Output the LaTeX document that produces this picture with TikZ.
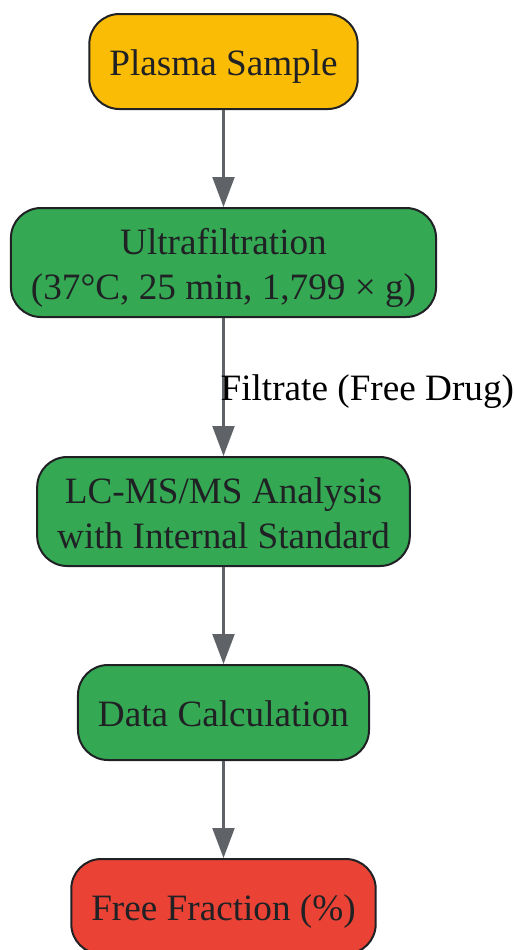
\documentclass[tikz,border=0pt]{standalone}
\usepackage{fontspec}
\setmainfont{Liberation Serif}
\usepackage{xcolor}
\usetikzlibrary{positioning,arrows.meta}
\definecolor{sampleyellow}{HTML}{FBBC05}
\definecolor{procgreen}{HTML}{34A853}
\definecolor{resultred}{HTML}{EA4335}
\definecolor{flowgray}{HTML}{5F6368}
\definecolor{inkdark}{HTML}{202124}
\tikzset{
  stepbox/.style={draw=inkdark, line width=1pt, rounded corners=15pt, text=inkdark,
    align=center, font=\fontsize{18.6}{22.5}\selectfont, inner xsep=10pt, inner ysep=3pt,
    text height=17.5pt, text depth=3.5pt, minimum height=47.5pt},
  tallbox/.style={stepbox, text height=40pt, minimum height=54.5pt},
  flow/.style={flowgray, line width=1.1pt, -{Triangle[length=15pt,width=11pt]}},
}
\begin{document}
\begin{tikzpicture}
            \useasboundingbox (0,0) rectangle (257pt,-475pt);
            \node[stepbox, fill=sampleyellow] (plasma) at (111.75pt,-30.75pt) {Plasma Sample};
            \node[tallbox, fill=procgreen, below=48.5pt of plasma] (ultra) {Ultrafiltration\\(37°C, 25 min, 1,799 × g)};
            \node[tallbox, fill=procgreen, below=69pt of ultra] (lcms) {LC-MS/MS Analysis\\with Internal Standard};
            \node[stepbox, fill=procgreen, below=48.5pt of lcms] (calc) {Data Calculation};
            \node[stepbox, fill=resultred, below=48.5pt of calc] (fraction) {Free Fraction (\%)};
            \draw[flow] (plasma) -- (ultra);
            \draw[flow] (ultra) -- (lcms) node[midway, right, inner sep=0pt, xshift=-2pt, yshift=-2.5pt, text=black, font=\fontsize{18.6}{22.5}\selectfont]{Filtrate (Free Drug)};
            \draw[flow] (lcms) -- (calc);
            \draw[flow] (calc) -- (fraction);
        \end{tikzpicture}
\end{document}
